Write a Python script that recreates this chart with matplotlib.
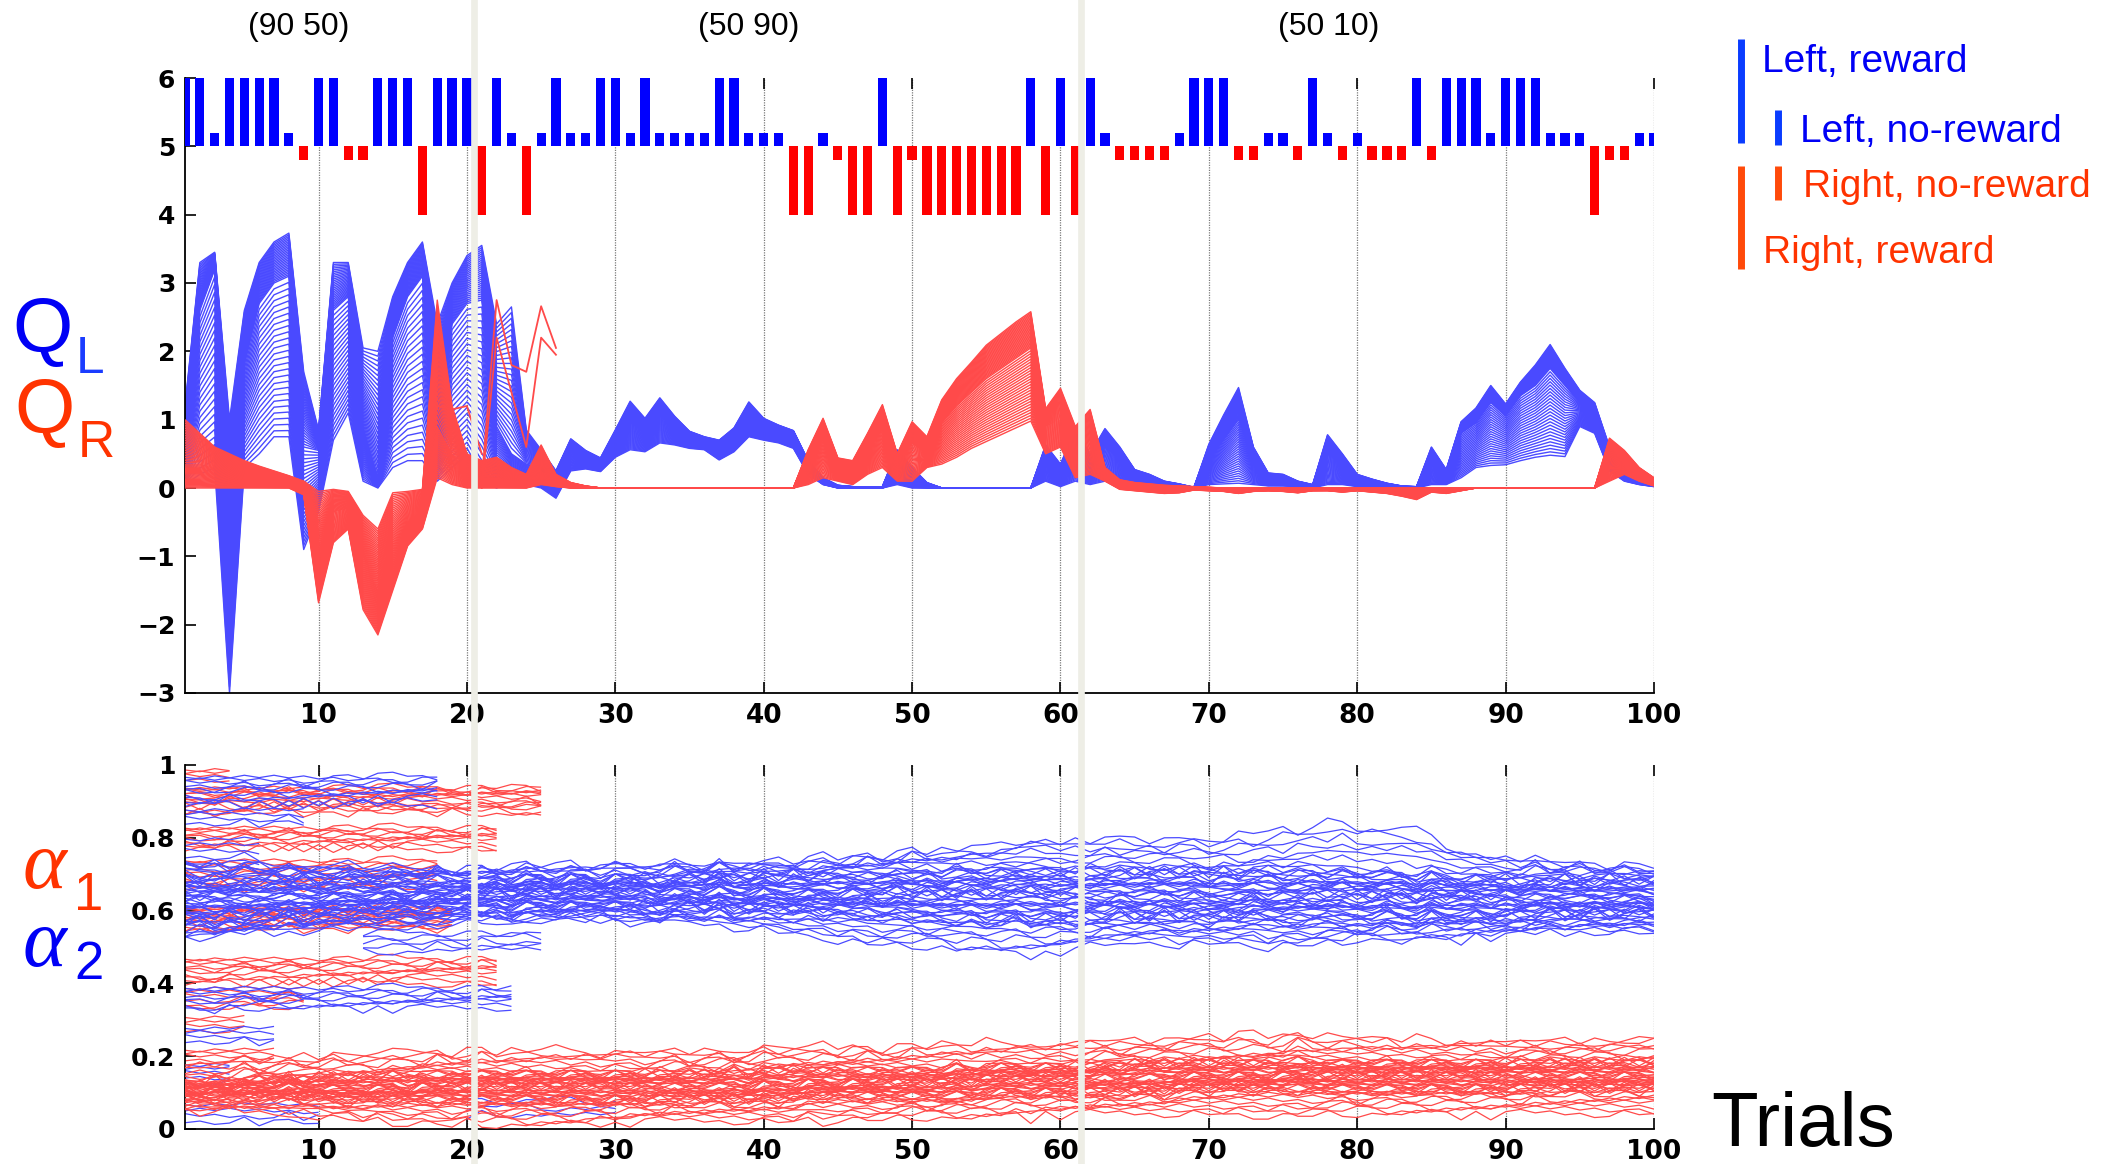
import numpy as np
import matplotlib
matplotlib.use("Agg")
import matplotlib.pyplot as plt
from matplotlib.collections import LineCollection
from matplotlib.lines import Line2D
from matplotlib.transforms import blended_transform_factory

plt.rcParams["font.family"] = ["Liberation Sans", "DejaVu Sans"]
plt.rcParams["mathtext.fontset"] = "custom"
plt.rcParams["mathtext.it"] = "Liberation Serif:italic"
plt.rcParams["mathtext.rm"] = "Liberation Serif"

# ---------------------------------------------------------------- data
trials = np.arange(1, 101)

# choice on each trial (L / R) and whether it was rewarded
choice = list("LLLLLLLLRL" "LRRLLLRLLL" "RLLRLLLLLL" "LLLLLLLLLL" "LRRLRRRLRR"
              "RRRRRRRLRL" "RLLRRRRLLL" "LRRLLRLLRL" "RRRLRLLLLL" "LLLLLRRRLL")
reward = [1, 1, 0, 1, 1, 1, 1, 0, 0, 1,  1, 0, 0, 1, 1, 1, 1, 1, 1, 1,
          1, 1, 0, 1, 0, 1, 0, 0, 1, 1,  0, 1, 0, 0, 0, 0, 1, 1, 0, 0,
          0, 1, 1, 0, 0, 1, 1, 1, 1, 0,  1, 1, 1, 1, 1, 1, 1, 1, 1, 1,
          1, 1, 0, 0, 0, 0, 0, 0, 1, 1,  1, 0, 0, 0, 0, 0, 1, 0, 0, 0,
          0, 0, 0, 1, 0, 1, 1, 1, 0, 1,  1, 1, 0, 0, 0, 1, 0, 0, 0, 0]

block_titles = ["(90 50)", "(50 90)", "(50 10)"]
block_edges = [20.5, 61.4]

# Q_L particle cloud: upper edge, median, lower edge per trial
qL_top = [1.20, 3.30, 3.45, 1.00, 2.60, 3.30, 3.60, 3.73, 1.70, 0.85,
          3.30, 3.30, 2.05, 2.00, 2.80, 3.30, 3.60, 2.40, 3.00, 3.40,
          3.55, 2.40, 2.65, 0.85, 0.56, 0.25, 0.72, 0.55, 0.44, 0.85,
          1.27, 1.02, 1.32, 1.05, 0.83, 0.75, 0.70, 0.88, 1.26, 1.02,
          0.92, 0.84, 0.40, 0.15, 0.04, 0.02, 0.01, 0.02, 0.56, 0.30,
          0.08, 0.00, 0.00, 0.00, 0.00, 0.00, 0.00, 0.00, 0.63, 0.35,
          0.85, 0.50, 0.87, 0.60, 0.27, 0.20, 0.10, 0.06, 0.01, 0.64,
          1.07, 1.47, 0.60, 0.22, 0.20, 0.10, 0.05, 0.78, 0.50, 0.20,
          0.13, 0.07, 0.03, 0.02, 0.60, 0.27, 0.97, 1.17, 1.50, 1.23,
          1.55, 1.80, 2.10, 1.75, 1.43, 1.25, 0.60, 0.30, 0.15, 0.10]
qL_mid = [0.50, 2.60, 3.20, -0.60, 1.80, 2.70, 3.00, 3.10, 0.60, 0.55,
          2.60, 2.80, 0.90, 0.15, 2.20, 2.80, 3.10, 0.90, 2.40, 2.70,
          2.75, 0.90, 0.50, 0.35, 0.30, 0.18, 0.55, 0.42, 0.35, 0.65,
          0.95, 0.80, 1.05, 0.88, 0.75, 0.68, 0.62, 0.75, 1.00, 0.90,
          0.85, 0.78, 0.32, 0.10, 0.02, 0.01, 0.00, 0.01, 0.35, 0.12,
          0.03, 0.00, 0.00, 0.00, 0.00, 0.00, 0.00, 0.00, 0.45, 0.20,
          0.60, 0.30, 0.60, 0.40, 0.20, 0.12, 0.06, 0.03, 0.00, 0.40,
          0.70, 1.00, 0.45, 0.15, 0.12, 0.06, 0.02, 0.50, 0.32, 0.12,
          0.08, 0.04, 0.01, 0.00, 0.40, 0.18, 0.80, 0.95, 1.25, 1.05,
          1.35, 1.50, 1.75, 1.50, 1.25, 1.05, 0.40, 0.20, 0.10, 0.06]
qL_bot = [0.05, 0.20, 0.30, -3.00, 0.30, 0.50, 0.75, 0.75, -0.90, -0.35,
          0.70, 1.10, 0.10, 0.00, 0.30, 0.40, 0.40, 0.10, 0.30, 0.50,
          0.10, 0.00, 0.10, 0.05, 0.00, -0.15, 0.25, 0.28, 0.24, 0.45,
          0.56, 0.53, 0.66, 0.63, 0.58, 0.56, 0.41, 0.53, 0.75, 0.70,
          0.66, 0.58, 0.20, 0.05, 0.00, 0.00, 0.00, 0.00, 0.05, 0.00,
          0.00, 0.00, 0.00, 0.00, 0.00, 0.00, 0.00, 0.00, 0.10, 0.02,
          0.10, 0.05, 0.10, 0.08, 0.06, 0.04, 0.02, 0.01, 0.00, 0.05,
          0.06, 0.07, 0.05, 0.03, 0.03, 0.02, 0.00, 0.05, 0.05, 0.02,
          0.02, 0.01, 0.00, 0.00, 0.05, 0.05, 0.15, 0.30, 0.33, 0.34,
          0.40, 0.45, 0.48, 0.46, 0.90, 0.80, 0.25, 0.10, 0.05, 0.02]

# Q_R particle cloud
qR_top = [1.00, 0.80, 0.60, 0.50, 0.40, 0.32, 0.25, 0.18, 0.10, -0.05,
          -0.02, -0.05, -0.40, -0.60, -0.07, -0.05, -0.02, 2.75, 1.20, 0.50,
          0.40, 0.45, 0.30, 0.20, 0.63, 0.20, 0.08, 0.03, 0.00, 0.00,
          0.00, 0.00, 0.00, 0.00, 0.00, 0.00, 0.00, 0.00, 0.00, 0.00,
          0.00, 0.00, 0.56, 1.02, 0.44, 0.40, 0.80, 1.22, 0.50, 0.97,
          0.75, 1.29, 1.60, 1.84, 2.09, 2.26, 2.43, 2.58, 1.16, 1.46,
          0.90, 1.15, 0.30, 0.12, 0.08, 0.06, 0.04, 0.03, 0.02, 0.01,
          0.00, 0.00, 0.00, 0.00, 0.00, 0.00, 0.00, 0.00, 0.00, 0.00,
          0.00, 0.00, 0.00, 0.00, 0.00, 0.00, 0.00, 0.00, 0.00, 0.00,
          0.00, 0.00, 0.00, 0.00, 0.00, 0.00, 0.73, 0.55, 0.30, 0.15]
qR_mid = [0.35, 0.35, 0.30, 0.25, 0.20, 0.15, 0.10, 0.07, 0.03, -0.90,
          -0.35, -0.30, -1.00, -1.50, -0.80, -0.50, -0.30, 0.90, 0.50, 0.25,
          0.15, 0.15, 0.10, 0.06, 0.25, 0.08, 0.03, 0.01, 0.00, 0.00,
          0.00, 0.00, 0.00, 0.00, 0.00, 0.00, 0.00, 0.00, 0.00, 0.00,
          0.00, 0.00, 0.35, 0.70, 0.30, 0.25, 0.55, 0.85, 0.35, 0.65,
          0.50, 0.95, 1.20, 1.40, 1.60, 1.75, 1.90, 2.05, 0.90, 1.00,
          0.50, 0.70, 0.20, 0.05, 0.02, 0.00, -0.02, -0.02, 0.00, -0.01,
          -0.02, -0.03, -0.02, -0.02, -0.02, -0.03, -0.02, -0.01, -0.02, -0.01,
          -0.02, -0.03, -0.04, -0.03, -0.02, -0.02, -0.01, 0.00, 0.00, 0.00,
          0.00, 0.00, 0.00, 0.00, 0.00, 0.00, 0.45, 0.35, 0.20, 0.08]
qR_bot = [0.00, 0.00, 0.00, 0.00, 0.00, 0.00, 0.00, 0.00, -0.10, -1.68,
          -0.80, -0.60, -1.78, -2.15, -1.50, -0.85, -0.60, 0.15, 0.05, 0.00,
          0.00, 0.00, 0.00, 0.00, 0.05, 0.02, 0.00, 0.00, 0.00, 0.00,
          0.00, 0.00, 0.00, 0.00, 0.00, 0.00, 0.00, 0.00, 0.00, 0.00,
          0.00, 0.00, 0.05, 0.15, 0.10, 0.05, 0.20, 0.30, 0.10, 0.10,
          0.30, 0.35, 0.45, 0.58, 0.68, 0.78, 0.88, 0.98, 0.50, 0.60,
          0.15, 0.20, 0.10, -0.02, -0.04, -0.06, -0.08, -0.07, -0.03, -0.04,
          -0.05, -0.08, -0.05, -0.04, -0.05, -0.07, -0.04, -0.04, -0.06, -0.04,
          -0.06, -0.08, -0.12, -0.17, -0.06, -0.08, -0.04, 0.00, 0.00, 0.00,
          0.00, 0.00, 0.00, 0.00, 0.00, 0.00, 0.10, 0.20, 0.10, 0.03]

# a few stray Q_R particles that die out around trial 26
qR_stray_x = [[18, 19, 20, 21], [21, 22, 23, 24, 25, 26], [21, 22, 23, 24, 25, 26]]
qR_stray_y = [[1.20, 1.15, 1.20, 0.50],
              [0.10, 2.75, 1.80, 1.70, 2.66, 2.05],
              [0.00, 2.20, 1.40, 0.60, 2.20, 1.95]]

# learning rates: main alpha_2 cloud (outer low, core low, core high, outer high)
a2_lo = [0.52, 0.53, 0.52, 0.53, 0.53, 0.54, 0.53, 0.54, 0.54, 0.55,
         0.55, 0.55, 0.56, 0.55, 0.56, 0.56, 0.56, 0.56, 0.57, 0.57,
         0.57, 0.57, 0.56, 0.57, 0.57, 0.57, 0.58, 0.57, 0.58, 0.57,
         0.57, 0.56, 0.56, 0.57, 0.56, 0.56, 0.56, 0.55, 0.55, 0.55,
         0.54, 0.54, 0.53, 0.53, 0.52, 0.52, 0.51, 0.51, 0.50, 0.50,
         0.50, 0.50, 0.49, 0.49, 0.49, 0.48, 0.48, 0.48, 0.48, 0.49,
         0.49, 0.50, 0.50, 0.50, 0.51, 0.51, 0.51, 0.50, 0.51, 0.51,
         0.51, 0.51, 0.51, 0.50, 0.51, 0.51, 0.51, 0.51, 0.51, 0.52,
         0.52, 0.52, 0.51, 0.52, 0.52, 0.52, 0.52, 0.53, 0.53, 0.53,
         0.53, 0.53, 0.54, 0.53, 0.54, 0.54, 0.54, 0.54, 0.54, 0.54]
a2_core_lo = [0.56, 0.57, 0.56, 0.57, 0.56, 0.57, 0.57, 0.58, 0.57, 0.58,
              0.58, 0.58, 0.59, 0.58, 0.59, 0.59, 0.58, 0.59, 0.59, 0.60,
              0.59, 0.60, 0.59, 0.60, 0.60, 0.60, 0.60, 0.60, 0.61, 0.60,
              0.60, 0.60, 0.59, 0.60, 0.60, 0.59, 0.60, 0.59, 0.59, 0.59,
              0.59, 0.58, 0.59, 0.58, 0.58, 0.58, 0.58, 0.57, 0.58, 0.57,
              0.57, 0.57, 0.56, 0.57, 0.56, 0.56, 0.57, 0.56, 0.56, 0.56,
              0.56, 0.56, 0.56, 0.57, 0.56, 0.56, 0.57, 0.56, 0.56, 0.56,
              0.56, 0.56, 0.57, 0.56, 0.56, 0.56, 0.56, 0.57, 0.56, 0.56,
              0.56, 0.57, 0.56, 0.56, 0.57, 0.56, 0.57, 0.57, 0.56, 0.57,
              0.57, 0.57, 0.58, 0.57, 0.57, 0.58, 0.57, 0.57, 0.58, 0.57]
a2_core_hi = [0.70, 0.69, 0.70, 0.69, 0.70, 0.69, 0.70, 0.69, 0.70, 0.69,
              0.69, 0.70, 0.69, 0.69, 0.70, 0.69, 0.69, 0.70, 0.69, 0.69,
              0.69, 0.70, 0.69, 0.70, 0.70, 0.69, 0.70, 0.70, 0.69, 0.70,
              0.70, 0.70, 0.69, 0.70, 0.70, 0.70, 0.71, 0.70, 0.70, 0.71,
              0.70, 0.71, 0.70, 0.71, 0.71, 0.71, 0.71, 0.71, 0.72, 0.71,
              0.72, 0.71, 0.72, 0.72, 0.72, 0.72, 0.72, 0.73, 0.72, 0.72,
              0.72, 0.72, 0.72, 0.72, 0.72, 0.72, 0.72, 0.72, 0.72, 0.71,
              0.72, 0.71, 0.72, 0.72, 0.71, 0.72, 0.72, 0.71, 0.72, 0.71,
              0.71, 0.71, 0.71, 0.70, 0.71, 0.70, 0.70, 0.70, 0.70, 0.70,
              0.69, 0.70, 0.69, 0.70, 0.69, 0.69, 0.70, 0.69, 0.69, 0.69]
a2_hi = [0.74, 0.73, 0.74, 0.72, 0.73, 0.74, 0.72, 0.73, 0.72, 0.73,
         0.72, 0.73, 0.72, 0.71, 0.72, 0.72, 0.71, 0.72, 0.71, 0.72,
         0.72, 0.71, 0.72, 0.73, 0.72, 0.72, 0.73, 0.72, 0.73, 0.74,
         0.73, 0.72, 0.73, 0.74, 0.73, 0.72, 0.74, 0.73, 0.74, 0.73,
         0.74, 0.73, 0.74, 0.75, 0.74, 0.75, 0.76, 0.75, 0.76, 0.77,
         0.76, 0.77, 0.76, 0.78, 0.77, 0.78, 0.79, 0.80, 0.80, 0.79,
         0.80, 0.79, 0.80, 0.81, 0.80, 0.79, 0.80, 0.81, 0.80, 0.79,
         0.80, 0.81, 0.80, 0.82, 0.83, 0.82, 0.84, 0.85, 0.84, 0.83,
         0.83, 0.82, 0.83, 0.82, 0.80, 0.78, 0.77, 0.76, 0.75, 0.75,
         0.74, 0.75, 0.74, 0.73, 0.74, 0.73, 0.72, 0.73, 0.72, 0.72]

# main alpha_1 cloud
a1_lo = [0.05, 0.05, 0.04, 0.05, 0.04, 0.04, 0.04, 0.03, 0.04, 0.03,
         0.03, 0.03, 0.02, 0.03, 0.02, 0.02, 0.02, 0.02, 0.01, 0.02,
         0.01, 0.01, 0.01, 0.01, 0.01, 0.01, 0.01, 0.01, 0.02, 0.01,
         0.02, 0.02, 0.02, 0.02, 0.02, 0.02, 0.02, 0.02, 0.02, 0.02,
         0.02, 0.02, 0.03, 0.02, 0.03, 0.03, 0.03, 0.03, 0.03, 0.03,
         0.03, 0.03, 0.03, 0.03, 0.03, 0.03, 0.04, 0.03, 0.04, 0.04,
         0.04, 0.04, 0.04, 0.04, 0.04, 0.04, 0.04, 0.04, 0.04, 0.04,
         0.04, 0.04, 0.04, 0.04, 0.04, 0.04, 0.04, 0.04, 0.04, 0.04,
         0.04, 0.04, 0.04, 0.04, 0.04, 0.04, 0.04, 0.04, 0.04, 0.04,
         0.04, 0.04, 0.04, 0.04, 0.04, 0.04, 0.04, 0.04, 0.04, 0.04]
a1_core_lo = [0.08, 0.08, 0.08, 0.08, 0.08, 0.08, 0.08, 0.08, 0.08, 0.08,
              0.07, 0.07, 0.07, 0.07, 0.07, 0.07, 0.07, 0.07, 0.07, 0.07,
              0.07, 0.07, 0.07, 0.07, 0.07, 0.07, 0.07, 0.07, 0.07, 0.07,
              0.07, 0.07, 0.07, 0.07, 0.07, 0.07, 0.07, 0.07, 0.07, 0.07,
              0.07, 0.07, 0.08, 0.08, 0.08, 0.08, 0.08, 0.08, 0.08, 0.08,
              0.08, 0.08, 0.08, 0.08, 0.09, 0.09, 0.09, 0.09, 0.09, 0.09,
              0.09, 0.09, 0.09, 0.09, 0.09, 0.09, 0.09, 0.10, 0.10, 0.10,
              0.10, 0.10, 0.10, 0.10, 0.10, 0.10, 0.10, 0.10, 0.10, 0.10,
              0.10, 0.10, 0.10, 0.10, 0.10, 0.10, 0.10, 0.10, 0.10, 0.10,
              0.10, 0.10, 0.10, 0.10, 0.10, 0.10, 0.10, 0.10, 0.10, 0.10]
a1_core_hi = [0.13, 0.13, 0.14, 0.13, 0.14, 0.14, 0.14, 0.15, 0.14, 0.15,
              0.15, 0.15, 0.15, 0.15, 0.16, 0.15, 0.16, 0.16, 0.16, 0.16,
              0.16, 0.16, 0.16, 0.16, 0.16, 0.16, 0.16, 0.16, 0.16, 0.16,
              0.16, 0.16, 0.16, 0.16, 0.16, 0.16, 0.16, 0.17, 0.16, 0.17,
              0.17, 0.17, 0.17, 0.17, 0.17, 0.17, 0.17, 0.17, 0.17, 0.17,
              0.17, 0.17, 0.18, 0.17, 0.18, 0.18, 0.18, 0.18, 0.18, 0.18,
              0.18, 0.18, 0.19, 0.18, 0.19, 0.19, 0.19, 0.19, 0.19, 0.19,
              0.19, 0.19, 0.19, 0.19, 0.19, 0.20, 0.19, 0.19, 0.19, 0.19,
              0.19, 0.19, 0.19, 0.19, 0.19, 0.19, 0.19, 0.19, 0.19, 0.19,
              0.19, 0.19, 0.19, 0.19, 0.19, 0.19, 0.19, 0.19, 0.19, 0.19]
a1_hi = [0.18, 0.19, 0.18, 0.19, 0.20, 0.19, 0.20, 0.20, 0.21, 0.20,
         0.21, 0.20, 0.21, 0.20, 0.21, 0.22, 0.21, 0.22, 0.21, 0.22,
         0.22, 0.21, 0.22, 0.21, 0.22, 0.22, 0.21, 0.22, 0.21, 0.22,
         0.22, 0.21, 0.22, 0.22, 0.21, 0.22, 0.22, 0.21, 0.22, 0.23,
         0.22, 0.23, 0.22, 0.23, 0.22, 0.23, 0.23, 0.22, 0.23, 0.23,
         0.23, 0.24, 0.23, 0.23, 0.24, 0.23, 0.24, 0.24, 0.23, 0.24,
         0.24, 0.25, 0.24, 0.25, 0.25, 0.24, 0.25, 0.26, 0.25, 0.26,
         0.25, 0.26, 0.26, 0.25, 0.26, 0.27, 0.26, 0.26, 0.25, 0.26,
         0.25, 0.25, 0.24, 0.25, 0.24, 0.24, 0.25, 0.24, 0.25, 0.24,
         0.25, 0.24, 0.25, 0.25, 0.24, 0.25, 0.25, 0.24, 0.25, 0.26]

# early particle groups that are resampled away (which rate, first/last trial, range)
grp_rate = ["a1", "a1", "a1", "a1", "a1", "a1", "a1", "a1", "a1",
            "a2", "a2", "a2", "a2", "a2", "a2", "a2", "a2", "a2"]
grp_first = [1, 1, 1, 1, 1, 1, 1, 1, 1, 1, 1, 1, 13, 1, 1, 1, 1, 20]
grp_last = [4, 25, 22, 18, 19, 22, 9, 5, 7, 18, 9, 6, 25, 23, 7, 4, 10, 30]
grp_lo = [0.96, 0.87, 0.77, 0.66, 0.55, 0.40, 0.33, 0.27, 0.19,
          0.89, 0.84, 0.73, 0.49, 0.33, 0.24, 0.13, 0.02, 0.04]
grp_hi = [0.99, 0.94, 0.83, 0.74, 0.61, 0.47, 0.39, 0.31, 0.22,
          0.97, 0.88, 0.80, 0.54, 0.39, 0.28, 0.18, 0.07, 0.08]
grp_size = [4, 14, 10, 10, 14, 10, 6, 4, 4, 10, 4, 5, 5, 8, 4, 5, 4, 3]

# ---------------------------------------------------------------- style
BLUE_LINE = "#4a4aff"
RED_LINE = "#ff4a4a"
BLUE_TXT = "#0000f5"
RED_TXT = "#ff3300"
GRID = "#7a7a7a"
SEP = "#eeeee6"

W, H = 2113, 1164
fig = plt.figure(figsize=(W / 100, H / 100), dpi=100)


def fx(px):
    return px / W


def fy(py):
    return 1 - py / H


ax_q = fig.add_axes([fx(185), fy(693), fx(1654) - fx(185), fy(78) - fy(693)])
ax_a = fig.add_axes([fx(185), fy(1129), fx(1654) - fx(185), fy(765) - fy(1129)])

ax_q.set_ylim(-3, 6)
ax_q.set_yticks(np.arange(-3, 7))
ax_a.set_ylim(0, 1)
ax_a.set_yticks([0, 0.2, 0.4, 0.6, 0.8, 1])
ax_a.set_yticklabels(["0", "0.2", "0.4", "0.6", "0.8", "1"])

for ax in (ax_q, ax_a):
    ax.set_xlim(1, 100)
    ax.set_xticks(np.arange(10, 101, 10))
    for s in ("top", "right"):
        ax.spines[s].set_visible(False)
    for s in ("left", "bottom"):
        ax.spines[s].set_linewidth(1.3)
    ax.tick_params(direction="in", length=8, width=1.2, top=True, pad=7)
    ax.grid(axis="x", color=GRID, linestyle=(0, (1, 1)), linewidth=0.9)
    ax.set_axisbelow(True)
    for lab in ax.get_xticklabels():
        lab.set_fontfamily("DejaVu Sans")
        lab.set_fontweight("bold")
        lab.set_fontsize(19)
    for lab in ax.get_yticklabels():
        lab.set_fontfamily("DejaVu Sans")
        lab.set_fontweight("bold")
        lab.set_fontsize(18)


def cloud(ax, guides, counts, color, lw, zorder, x=trials, wiggle=0.0):
    """Fill the space between successive guide curves with particle traces."""
    segs = []
    j = 0
    g = [np.asarray(v, float) for v in guides]
    xi = np.asarray(x, int)
    for i, n in enumerate(counts):
        hi, lo = g[i], g[i + 1]
        last = i == len(counts) - 1
        steps = n + 1 if last else n
        for k in range(steps):
            f = k / n
            y = hi + f * (lo - hi)
            if wiggle:
                # irregular per-trace ripple so neighbouring traces cross
                r = ((7 * xi * xi + xi * (13 * j + 3) + 5 * j * j + 11 * j) % 29) / 14.0 - 1.0
                y = y + wiggle * r
            segs.append(np.column_stack([x, y]))
            j += 1
    ax.add_collection(LineCollection(segs, colors=color, linewidths=lw,
                                     zorder=zorder))


# ---------------------------------------------------------------- top panel
cloud(ax_q, [qL_top, qL_mid, qL_bot], [26, 26], BLUE_LINE, 1.0, 2)
cloud(ax_q, [qR_top, qR_mid, qR_bot], [26, 26], RED_LINE, 1.0, 3)
for xs, ys in zip(qR_stray_x, qR_stray_y):
    ax_q.plot(xs, ys, color=RED_LINE, lw=1.3, zorder=3)

ch = np.array(choice)
rw = np.array(reward)
is_left = ch == "L"
size = np.where(rw == 1, 1.0, 0.2)
ax_q.bar(trials, np.where(is_left, size, -size), bottom=5, width=0.62,
         color=np.where(is_left, "#0000ff", "#ff0000"), linewidth=0, zorder=5)

# ---------------------------------------------------------------- bottom panel
for rate, a, b, lo, hi, n in zip(grp_rate, grp_first, grp_last, grp_lo, grp_hi, grp_size):
    xs = np.arange(a, b + 1)
    col = RED_LINE if rate == "a1" else BLUE_LINE
    cloud(ax_a, [np.full(xs.size, hi), np.full(xs.size, lo)], [n - 1], col,
          0.9, 2, x=xs, wiggle=0.013)

cloud(ax_a, [a2_hi, a2_core_hi, a2_core_lo, a2_lo], [6, 38, 6], BLUE_LINE, 0.9, 2,
      wiggle=0.015)
cloud(ax_a, [a1_hi, a1_core_hi, a1_core_lo, a1_lo], [6, 38, 6], RED_LINE, 0.9, 3,
      wiggle=0.015)

# ---------------------------------------------------------------- labels
title_x = [299, 749, 1329]
for t, px in zip(block_titles, title_x):
    fig.text(fx(px), fy(27), t, fontsize=23, ha="center", va="center")

fig.text(fx(12), fy(352), "Q", fontsize=56, color=BLUE_TXT, va="baseline")
fig.text(fx(76), fy(373), "L", fontsize=37, color="#1a3cff", va="baseline")
fig.text(fx(14), fy(433), "Q", fontsize=56, color=RED_TXT, va="baseline")
fig.text(fx(78), fy(457), "R", fontsize=37, color=RED_TXT, va="baseline")

fig.text(fx(22), fy(888), r"$\alpha$", fontsize=60, color=RED_TXT, va="baseline")
fig.text(fx(74), fy(910), "1", fontsize=38, color=RED_TXT, va="baseline")
fig.text(fx(22), fy(966), r"$\alpha$", fontsize=60, color=BLUE_TXT, va="baseline")
fig.text(fx(74), fy(979), "2", fontsize=38, color=BLUE_TXT, va="baseline")

fig.text(fx(1711), fy(1146), "Trials", fontsize=55, va="baseline")

# outcome key
key_bars = [(1740.5, 39, 143, "#0a3cff"), (1777.5, 110, 145, "#0a3cff"),
            (1777.5, 166, 200, "#ff4a0a"), (1740.5, 166, 269, "#ff4a0a")]
for xk, y0, y1, c in key_bars:
    fig.add_artist(Line2D([fx(xk), fx(xk)], [fy(y0), fy(y1)], color=c, lw=5,
                          solid_capstyle="butt", transform=fig.transFigure))
key_text = [(1762, 72, "Left, reward", BLUE_TXT),
            (1800, 142, "Left, no-reward", BLUE_TXT),
            (1803, 197, "Right, no-reward", RED_TXT),
            (1763, 263, "Right, reward", RED_TXT)]
for xk, yk, s, c in key_text:
    fig.text(fx(xk), fy(yk), s, fontsize=28, color=c, va="baseline")

# block boundaries run through the whole figure
sep_tr = blended_transform_factory(ax_q.transData, fig.transFigure)
for xs in block_edges:
    fig.add_artist(Line2D([xs, xs], [0, 1], transform=sep_tr, color=SEP,
                          lw=4.8, zorder=10))

fig.savefig("out.png", dpi=100)
